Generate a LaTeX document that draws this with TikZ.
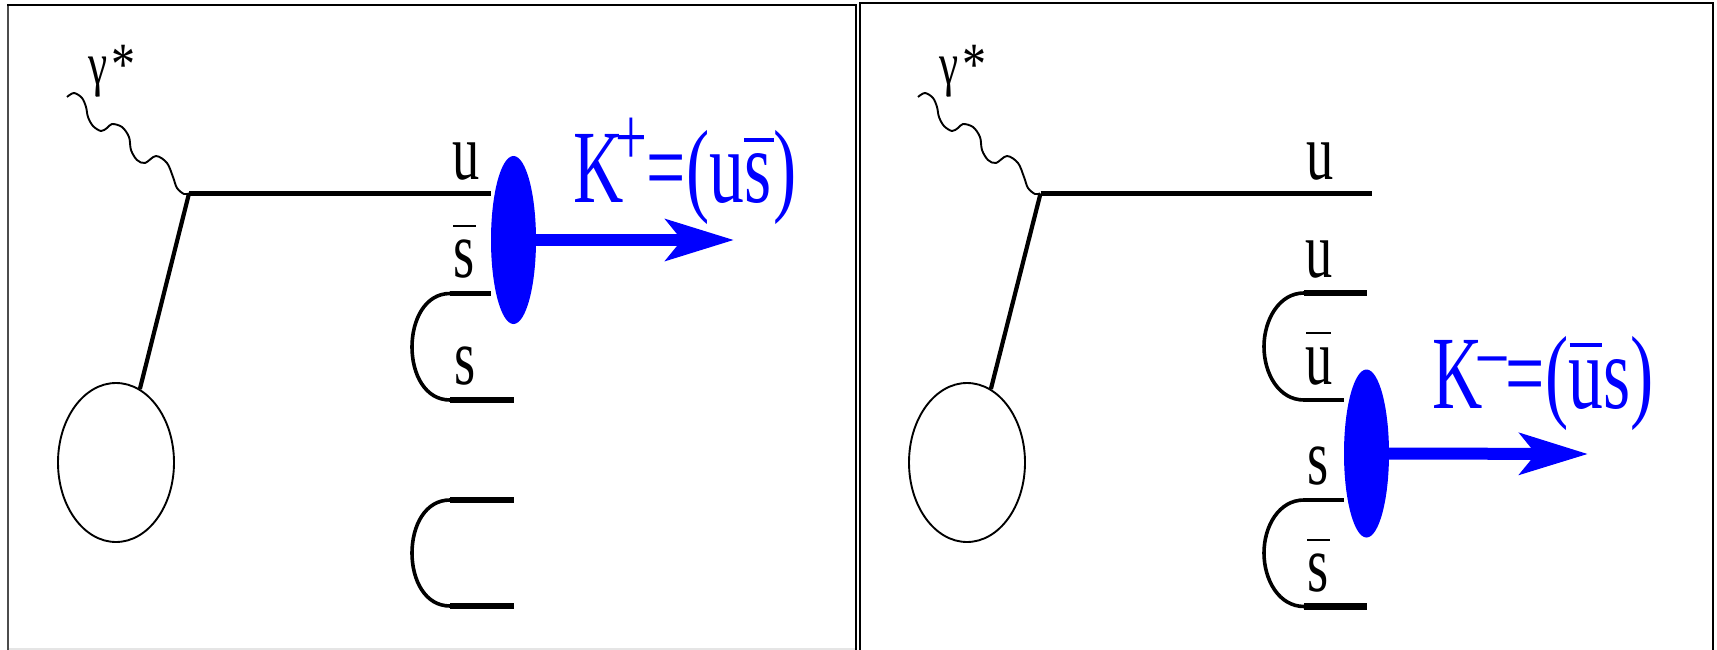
\documentclass[tikz,border=0pt]{standalone}
\usepackage{fontspec}
\setmainfont{Liberation Serif}
\usetikzlibrary{shapes.geometric,arrows.meta}
\newcommand\ovl[3]{\ooalign{#3\cr\hfil\rule[#1]{#2}{0.035em}\hfil\cr}}
\newcommand\quarklab[1]{\scalebox{.68}[1]{\fontsize{80}{80}\selectfont #1}}
\newcommand\kaonlab[1]{\scalebox{.67}[1]{\fontsize{104}{104}\selectfont #1}}
\newcommand\wigglepath{(67,97) (74,93) (82,98) (86,107) (88,117) (93,126) (101,131) (107,128) (112,124) (122,127) (129,137) (131,150) (137,160) (145,163) (156,156) (167,163) (173,177) (177,188) (184,194) (189,193.5)}
\tikzset{
  x=1pt,y=-1pt,
  frameline/.style={draw=black,line width=2.2pt},
  thinq/.style={draw=black,line width=4.2pt},
  thickq/.style={draw=black,line width=6.5pt},
  curveq/.style={draw=black,line width=3.6pt},
  photon/.style={draw=black,line width=1.9pt},
  blob/.style={ellipse,fill=blue,draw=none,inner sep=0pt,minimum width=45pt,minimum height=168pt},
  target/.style={ellipse,draw=black,line width=1.9pt,inner sep=0pt,minimum width=116pt,minimum height=159pt},
  kaonarrow/.style={draw=blue,line width=12pt,-{Stealth[length=68pt,width=41pt,inset=16pt]}},
  quark/.style={inner sep=0pt,anchor=base west,text=black},
  kaon/.style={inner sep=0pt,anchor=base west,text=blue},
  glab/.style={inner sep=0pt,anchor=base west,text=black,font=\fontsize{60}{60}\selectfont},
}
\begin{document}
\begin{tikzpicture}
\useasboundingbox (0,0) rectangle (1717,650);
\fill[white] (0,0) rectangle (1717,650);
% frames
\draw[gray!20,line width=1.5pt] (8,649) -- (856,649);
\draw[draw=black!70,line width=2pt] (8,650) -- (8,5);
\draw[frameline] (7,5) -- (856,5) -- (856,650);
\draw[frameline] (860,650) -- (860,3) -- (1713,3) -- (1713,650);
% LEFT
\coordinate (lv) at (189,193.5);
\draw[photon] plot[smooth,tension=.55] coordinates {\wigglepath};
\node[glab] (lgamma) at (88,85) {\scalebox{.72}[1]{γ}};
\node[glab] (lstar) at (111,85) {\scalebox{.8}[1]{*}};
\node[blob] (lblob) at (513.5,240) {};
\node[target] (ltarget) at (116,462.5) {};
\draw[thinq] (lv) -- (lblob.west |- lv);
\draw[thinq] (lv) -- (ltarget.72.6);
\coordinate (ls1) at (450,293.5);
\coordinate (ls2) at (450,400);
\coordinate (ls2e) at (514,400);
\coordinate (ld1) at (450,500);
\coordinate (ld1e) at (514,500);
\coordinate (ld2) at (450,606);
\coordinate (ld2e) at (514,606);
\draw[curveq] (ls1) .. controls (425,293.5) and (412,320) .. (412,347) .. controls (412,374) and (425,400) .. (ls2);
\draw[curveq] (ld1) .. controls (425,500) and (412,526) .. (412,553) .. controls (412,580) and (425,606) .. (ld2);
\draw[thinq] (ls1) -- (lblob.west |- ls1);
\draw[thickq] (ls2) -- (ls2e);
\draw[thickq] (ld1) -- (ld1e);
\draw[thickq] (ld2) -- (ld2e);
\coordinate (ltip) at (734,240);
\draw[kaonarrow] (lblob.east) -- (ltip);
\node[quark] (lu) at (452,179) {\quarklab{u}};
\node[quark] (lsb) at (453,277) {\quarklab{\ovl{.62em}{.42em}{s}}};
\node[quark] (ls) at (454,384) {\quarklab{s}};
\node[kaon] (lk) at (573,203) {\kaonlab{K\kern-.11em\raisebox{.36em}{\fontsize{84}{84}\selectfont +}\kern-.01em=(u\ovl{.59em}{.42em}{s})}};
% RIGHT
\coordinate (rv) at (1040.5,193.5);
\coordinate (rue) at (1372,193.5);
\draw[photon,xshift=851pt] plot[smooth,tension=.55] coordinates {\wigglepath};
\node[glab] (rgamma) at (939,85) {\scalebox{.72}[1]{γ}};
\node[glab] (rstar) at (962,85) {\scalebox{.8}[1]{*}};
\node[blob] (rblob) at (1366.5,453.5) {};
\node[target] (rtarget) at (967,462.5) {};
\draw[thinq] (rv) -- (rue);
\draw[thinq] (rv) -- (rtarget.72.6);
\coordinate (ru1) at (1304,293);
\coordinate (ru1e) at (1367,293);
\coordinate (ru2) at (1304,400);
\coordinate (rs1) at (1304,500);
\coordinate (rs2) at (1304,606.5);
\coordinate (rs2e) at (1367,606.5);
\draw[curveq] (ru1) .. controls (1279,293) and (1264,320) .. (1264,346.5) .. controls (1264,374) and (1279,400) .. (ru2);
\draw[curveq] (rs1) .. controls (1279,500) and (1264,526) .. (1264,553) .. controls (1264,580) and (1279,606.5) .. (rs2);
\draw[thickq] (ru1) -- (ru1e);
\draw[thinq] (ru2) -- (rblob.west |- ru2);
\draw[thinq] (rs1) -- (rblob.west |- rs1);
\draw[thickq] (rs2) -- (rs2e);
\coordinate (rtip) at (1588,454);
\draw[kaonarrow] (rblob.east) -- (rtip);
\node[quark] (ru) at (1306,179) {\quarklab{u}};
\node[quark] (rua) at (1305,277) {\quarklab{u}};
\node[quark] (rub) at (1305,384) {\quarklab{\ovl{.62em}{.46em}{u}}};
\node[quark] (rsa) at (1307,484) {\quarklab{s}};
\node[quark] (rsb) at (1307,591) {\quarklab{\ovl{.62em}{.42em}{s}}};
\node[kaon] (rk) at (1432,408) {\kaonlab{K\kern-.06em\raisebox{.28em}{\fontsize{84}{84}\selectfont –}\kern-.01em=(\ovl{.59em}{.46em}{u}s)}};
\end{tikzpicture}
\end{document}
